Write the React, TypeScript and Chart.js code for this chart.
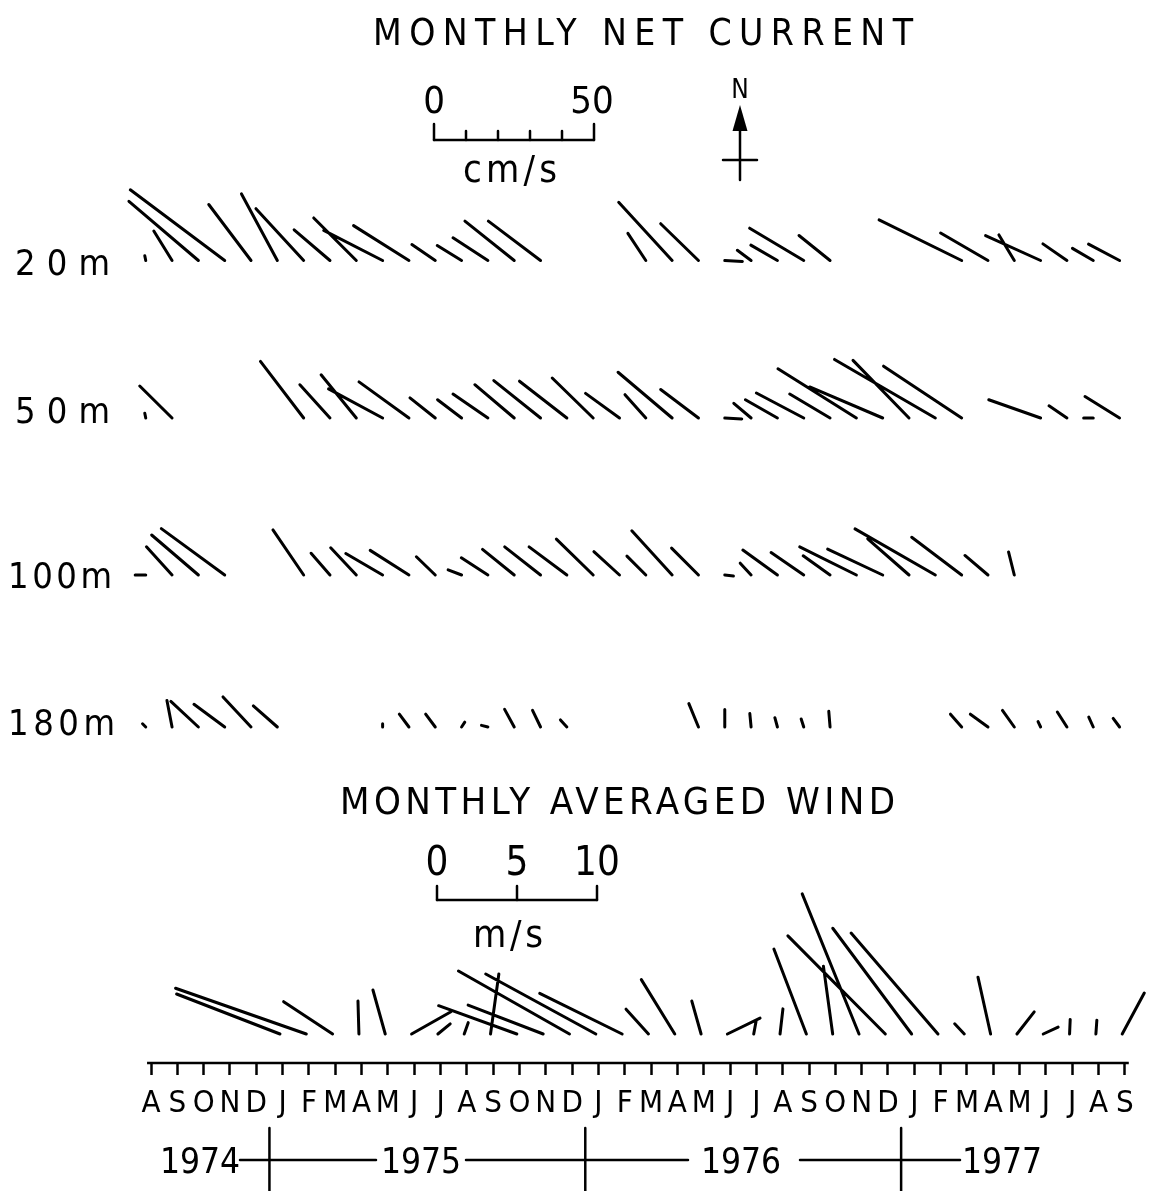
import { useEffect, useRef } from 'react';
import { Chart, registerables } from 'chart.js';

Chart.register(...registerables);

// ---------------- data ----------------
const MONTHS = ['A','S','O','N','D','J','F','M','A','M','J','J','A','S','O','N','D','J','F','M','A','M','J','J','A','S','O','N','D','J','F','M','A','M','J','J','A','S'];
const YEARS = ['1974', '1975', '1976', '1977'];
const DEPTHS = ['20m', '50m', '100m', '180m'];

// monthly net current (cm/s), east (U) and north (V) components, Aug 1974 .. Sep 1977
const U20 = [-0.3,-5.7,-21.7,-29.5,-13.2,-11.2,-14.9,-11.2,-13.3,-18.4,-17.3,-7.3,-7.6,-10.9,-15.4,-16.3,null,null,null,-5.6,-16.7,-11.8,5.5,-4.3,-8.3,-16.9,-9.7,null,null,null,null,-25.8,-14.8,-4.8,-17.2,-7.5,-6.5,-9.7];
const V20 = [1.5,9.2,18.5,22.1,17.5,20.8,16.2,9.6,13.3,9.4,10.9,5.0,4.7,7.1,12.3,12.3,null,null,null,8.5,18.2,11.5,-0.3,3.2,4.8,10.1,7.8,null,null,null,null,12.7,8.6,8.0,7.8,5.2,3.8,5.1];
const U50 = [-0.3,-10.1,null,null,null,null,-13.5,-9.4,-11.0,-16.9,-15.6,-7.9,-7.5,-10.9,-12.3,-14.6,-14.8,-12.8,-10.6,-6.5,-16.9,-11.8,5.3,-5.4,-10.0,-14.8,-12.6,-24.5,-22.8,-17.5,-31.5,-24.4,null,null,-16.2,-5.6,-3.0,-10.8];
const V50 = [1.5,10.0,null,null,null,null,17.7,10.4,13.5,9.1,11.3,6.3,5.7,7.5,10.4,11.7,11.5,12.5,7.7,7.3,14.3,8.9,-0.3,4.6,5.7,7.8,7.5,15.4,9.7,18.0,18.3,16.2,null,null,5.7,3.8,0.0,6.7];
const U100 = [-3.3,-8.0,-14.6,-19.8,null,null,-9.6,-5.9,-8.0,-11.5,-12.1,-5.9,-4.2,-8.3,-9.9,-11.2,-11.8,-11.5,-8.0,-5.9,-12.6,-8.4,2.7,-3.4,-10.8,-10.2,-8.4,-17.7,-17.2,-12.9,-25.1,-15.6,-7.2,-1.8,null,null,null,null];
const V100 = [0,8.8,12.5,14.5,null,null,14.1,6.8,8.5,6.7,7.7,5.7,1.6,5.4,8.0,8.8,8.8,11.2,7.3,5.9,13.8,8.4,-0.3,3.7,7.8,7.0,6.0,8.8,8.1,11.3,14.4,11.8,6.1,7.2,null,null,null,null];
const U180 = [-1,-1.6,-8.6,-9.6,-8.75,-7.5,null,null,null,0,-3,-3,1,-2,-3,-2.5,-2,null,null,null,null,-3,0,-0.4,-0.8,-0.8,-0.4,null,null,null,null,-3.5,-5.5,-3.7,-0.8,-3.0,-1.4,-2.0];
const V180 = [1,8.3,8.0,7.1,9.4,6.6,null,null,null,1,4,4,1.5,0.5,5.5,5.2,2.2,null,null,null,null,7.3,5.5,4.2,2.9,2.5,4.9,null,null,null,null,4.0,4.0,5.2,1.7,4.7,3.1,2.7];

// monthly averaged wind (m/s)
const UW = [null,null,null,null,null,-6.46,-8.17,-3.06,-0.06,-0.77,2.46,0.77,0.25,0.52,-4.89,-4.69,-6.94,-6.88,-5.15,-1.4,-2.09,-0.58,2.04,0.15,0.18,-2.03,-0.58,-3.55,-6.09,-4.93,-5.43,-0.6,-0.79,1.08,0.93,0.04,0.06,1.38];
const VW = [null,null,null,null,null,2.5,2.86,2.02,2.06,2.75,1.39,0.63,0.71,3.75,1.77,1.81,3.94,3.75,2.54,1.55,3.4,2.06,0.99,0.82,1.57,5.31,4.24,8.76,6.13,6.61,6.31,0.64,3.55,1.38,0.43,0.91,0.86,2.56];

const CURRENT_SCALE = [0, 50];
const WIND_SCALE = [0, 5, 10];

// ---------------- layout ----------------
const W = 1151;
const H = 1191;
const FONT = '"DejaVu Sans Condensed", "DejaVu Sans", sans-serif';
const X0_PX = 151;
const PX_PER_MONTH = 26.32;
const PX_PER_CM = 3.2;
const PX_PER_MS = 16;
const ROW_BASE_PX = [260.5, 418, 575, 727];
const WIND_BASE_PX = 1034;
const AXIS_PX = 1063;
const CURRENT_SHIFT = -0.2;
const WIND_SHIFT = -0.1;

const yVal = (px: number) => (H - px) / PX_PER_CM;

function sticks(us: (number | null)[], vs: (number | null)[], basePx: number, shift: number, pxPerUnit: number) {
  const pts: { x: number; y: number }[] = [];
  const base = yVal(basePx);
  us.forEach((u, i) => {
    const v = vs[i];
    if (u == null || v == null) return;
    const t = i + shift;
    pts.push({ x: t, y: base });
    pts.push({ x: t + (u * pxPerUnit) / PX_PER_MONTH, y: base + (v * pxPerUnit) / PX_PER_CM });
    pts.push({ x: NaN, y: NaN });
  });
  return pts;
}

function fitText(ctx: CanvasRenderingContext2D, text: string, cx: number, baseline: number, size: number, width?: number) {
  ctx.save();
  ctx.font = `${size}px ${FONT}`;
  ctx.fillStyle = '#000';
  ctx.textBaseline = 'alphabetic';
  const anyCtx = ctx as any;
  if (width && text.length > 1 && 'letterSpacing' in anyCtx) {
    anyCtx.letterSpacing = '0px';
    const m = ctx.measureText(text).width;
    const ls = Math.max(0, (width - m) / (text.length - 1));
    anyCtx.letterSpacing = `${ls}px`;
    const total = m + ls * (text.length - 1);
    ctx.textAlign = 'left';
    ctx.fillText(text, cx - total / 2, baseline);
  } else {
    ctx.textAlign = 'center';
    ctx.fillText(text, cx, baseline);
  }
  ctx.restore();
}

function line(ctx: CanvasRenderingContext2D, x1: number, y1: number, x2: number, y2: number, w = 2.5) {
  ctx.beginPath();
  ctx.lineWidth = w;
  ctx.moveTo(x1, y1);
  ctx.lineTo(x2, y2);
  ctx.stroke();
}

const decorPlugin = {
  id: 'decor',
  afterDraw(chart: any) {
    const ctx: CanvasRenderingContext2D = chart.ctx;
    const xs = chart.scales.x;
    const ys = chart.scales.y;
    const pxCm = Math.abs(ys.getPixelForValue(0) - ys.getPixelForValue(1));
    ctx.save();
    ctx.strokeStyle = '#000';
    ctx.fillStyle = '#000';
    ctx.lineCap = 'round';

    // titles
    fitText(ctx, 'MONTHLY NET CURRENT', 643, 45, 37, 540);
    fitText(ctx, 'MONTHLY AVERAGED WIND', 617.5, 814, 38, 555);

    // current scale bar
    const cx0 = 434;
    const cLen = CURRENT_SCALE[1] * pxCm;
    line(ctx, cx0, 140, cx0 + cLen, 140);
    for (let k = 0; k <= 5; k++) {
      const x = cx0 + (cLen * k) / 5;
      const tall = k === 0 || k === 5;
      line(ctx, x, tall ? 124 : 131, x, 140);
    }
    fitText(ctx, String(CURRENT_SCALE[0]), cx0, 113, 38);
    fitText(ctx, String(CURRENT_SCALE[1]), cx0 + cLen - 2, 113, 38);
    fitText(ctx, 'cm/s', 510, 182, 38, 94);

    // north arrow
    fitText(ctx, 'N', 740, 98, 26);
    line(ctx, 740, 120, 740, 180);
    line(ctx, 723, 160, 757, 160);
    ctx.beginPath();
    ctx.moveTo(740, 105);
    ctx.lineTo(732.5, 131);
    ctx.lineTo(747.5, 131);
    ctx.closePath();
    ctx.fill();

    // depth labels
    const depthBaseline = [275, 423, 588, 735];
    const depthWidth = [95, 95, 104, 107];
    DEPTHS.forEach((d, i) => {
      const w = depthWidth[i];
      const left = i < 2 ? 15 : 8;
      fitText(ctx, d, left + w / 2, depthBaseline[i], 36, w);
    });

    // wind scale bar
    const wx0 = 437;
    const wLen = WIND_SCALE[2] * (PX_PER_MS / PX_PER_CM) * pxCm;
    line(ctx, wx0, 900, wx0 + wLen, 900);
    WIND_SCALE.forEach((v) => {
      const x = wx0 + (v / WIND_SCALE[2]) * wLen;
      line(ctx, x, 886, x, 900);
      fitText(ctx, String(v), x, 875, 40);
    });
    fitText(ctx, 'm/s', 508, 947, 38, 70);

    // year row
    const sepY1 = 1128;
    [4.5, 16.5, 28.5].forEach((t) => {
      const x = xs.getPixelForValue(t);
      line(ctx, x, sepY1, x, H);
    });
    const yearY = 1160;
    [[240, 376], [466, 688], [800, 960]].forEach(([a, b]) => line(ctx, a, yearY, b, yearY));
    const yearCx = [200, 421, 741, 1002];
    YEARS.forEach((y, i) => fitText(ctx, y, yearCx[i], 1173, 35));

    ctx.restore();
  },
};

export default function App() {
  const ref = useRef<HTMLCanvasElement | null>(null);
  useEffect(() => {
    document.body.style.margin = '0';
    const canvas = ref.current!;
    const stickStyle = {
      borderColor: '#000',
      borderWidth: 3,
      borderCapStyle: 'round' as const,
      borderJoinStyle: 'round' as const,
      pointRadius: 0,
      pointHoverRadius: 0,
      spanGaps: false,
      tension: 0,
      fill: false,
    };
    const datasets = [
      { label: '20m', data: sticks(U20, V20, ROW_BASE_PX[0], CURRENT_SHIFT, PX_PER_CM), ...stickStyle },
      { label: '50m', data: sticks(U50, V50, ROW_BASE_PX[1], CURRENT_SHIFT, PX_PER_CM), ...stickStyle },
      { label: '100m', data: sticks(U100, V100, ROW_BASE_PX[2], CURRENT_SHIFT, PX_PER_CM), ...stickStyle },
      { label: '180m', data: sticks(U180, V180, ROW_BASE_PX[3], CURRENT_SHIFT, PX_PER_CM), ...stickStyle },
      { label: 'wind', data: sticks(UW, VW, WIND_BASE_PX, WIND_SHIFT, PX_PER_MS), ...stickStyle },
      {
        label: 'axis',
        data: [{ x: -0.15, y: yVal(AXIS_PX) }, { x: MONTHS.length - 1 + 0.15, y: yVal(AXIS_PX) }],
        ...stickStyle,
        borderWidth: 2.5,
        borderCapStyle: 'butt' as const,
      },
    ];
    const chart = new Chart(canvas, {
      type: 'line',
      data: { datasets: datasets as any },
      options: {
        animation: false,
        responsive: false,
        devicePixelRatio: 1,
        layout: { padding: 0 },
        events: [],
        plugins: { legend: { display: false }, tooltip: { enabled: false }, title: { display: false } },
        scales: {
          x: {
            type: 'linear',
            min: -X0_PX / PX_PER_MONTH,
            max: (W - X0_PX) / PX_PER_MONTH,
            position: { y: yVal(AXIS_PX) } as any,
            border: { display: false },
            grid: {
              display: true,
              drawOnChartArea: false,
              drawTicks: true,
              tickLength: 12,
              tickWidth: 2.5,
              tickColor: '#000',
            },
            afterBuildTicks: (scale: any) => {
              scale.ticks = MONTHS.map((_, i) => ({ value: i }));
            },
            ticks: {
              autoSkip: false,
              maxRotation: 0,
              padding: 10,
              color: '#000',
              font: { family: FONT, size: 31 },
              callback: (v: any) => MONTHS[Math.round(Number(v))] ?? '',
            },
          },
          y: {
            type: 'linear',
            display: false,
            min: 0,
            max: H / PX_PER_CM,
          },
        },
      },
      plugins: [decorPlugin],
    });
    return () => chart.destroy();
  }, []);
  return (
    <div style={{ position: 'absolute', left: 0, top: 0, width: W, height: H, background: '#fff' }}>
      <canvas ref={ref} width={W} height={H} style={{ width: W, height: H, display: 'block' }} />
    </div>
  );
}
